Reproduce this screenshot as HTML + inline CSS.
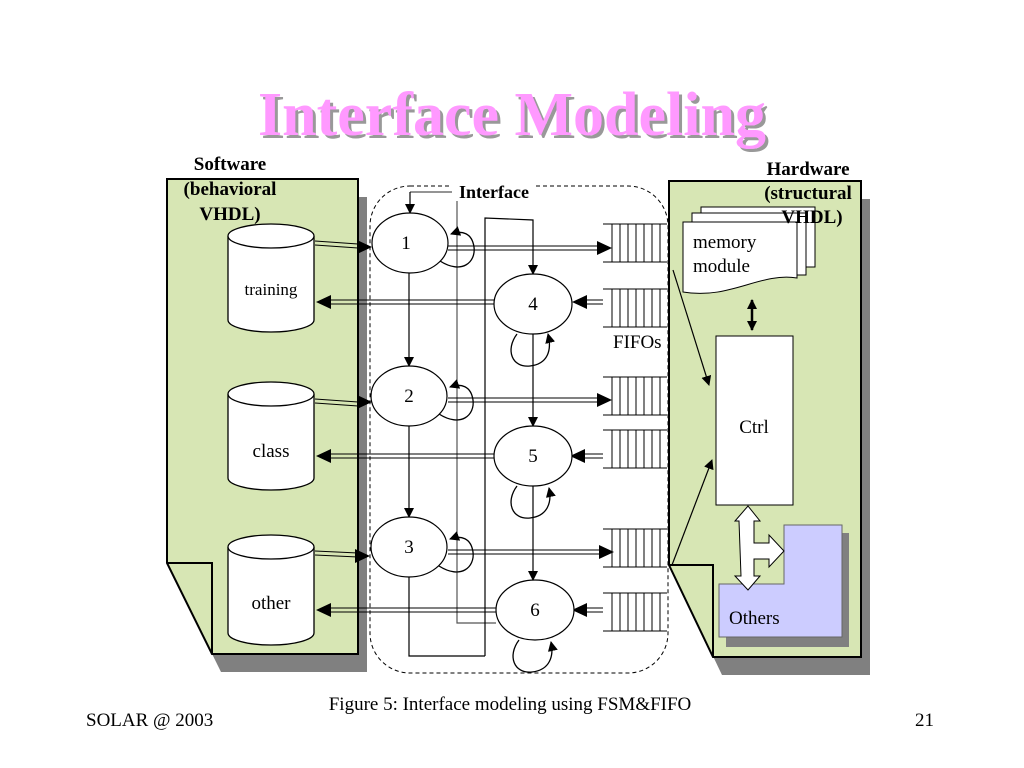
<!DOCTYPE html>
<html><head><meta charset="utf-8"><style>
body{margin:0;background:#fff;}
svg{display:block;font-family:"Liberation Serif",serif;}
</style></head><body>
<svg width="1024" height="768" viewBox="0 0 1024 768" xmlns="http://www.w3.org/2000/svg">
<defs>
<marker id="a" markerWidth="10" markerHeight="10" refX="9" refY="5" orient="auto" markerUnits="userSpaceOnUse"><path d="M0,0 L10,5 L0,10 z" fill="#000"/></marker>
<marker id="as" markerWidth="10" markerHeight="10" refX="1" refY="5" orient="auto" markerUnits="userSpaceOnUse"><path d="M10,0 L0,5 L10,10 z" fill="#000"/></marker>
<g id="fifo">
<line x1="603" y1="0" x2="667" y2="0" stroke="#000"/><line x1="603" y1="38" x2="667" y2="38" stroke="#000"/>
<path d="M612,0v38M620,0v38M628,0v38M636,0v38M644,0v38M652,0v38M660,0v38" stroke="#000"/>
</g>
</defs>
<text x="515" y="138" font-size="62" font-weight="bold" fill="#999" text-anchor="middle">Interface Modeling</text>
<text x="512" y="135" font-size="62" font-weight="bold" fill="#ff99ff" text-anchor="middle">Interface Modeling</text>

<!-- software panel -->
<polygon points="176,197 367,197 367,672 221,672 176,581" fill="#808080"/>
<polygon points="167,179 358,179 358,654 212,654 167,563" fill="#d7e6b4" stroke="#000" stroke-width="2"/>
<polyline points="167,563 212,563 212,654" fill="none" stroke="#000" stroke-width="2"/>
<!-- hardware panel -->
<polygon points="678,199 870,199 870,675 722,675 678,583" fill="#808080"/>
<polygon points="669,181 861,181 861,657 713,657 669,565" fill="#d7e6b4" stroke="#000" stroke-width="2"/>
<polyline points="669,565 713,565 713,657" fill="none" stroke="#000" stroke-width="2"/>

<!-- dashed interface -->
<rect x="370" y="186" width="298" height="487" rx="40" fill="none" stroke="#000" stroke-dasharray="4,3"/>

<!-- cylinders -->
<g stroke="#000" stroke-width="1.3" fill="#fff">
<path d="M228,236 V320 A43,12 0 0 0 314,320 V236"/><ellipse cx="271" cy="236" rx="43" ry="12"/>
<path d="M228,394 V478 A43,12 0 0 0 314,478 V394"/><ellipse cx="271" cy="394" rx="43" ry="12"/>
<path d="M228,547 V633 A43,12 0 0 0 314,633 V547"/><ellipse cx="271" cy="547" rx="43" ry="12"/>
</g>
<g font-size="19" text-anchor="middle">
<text x="271" y="295" font-size="17">training</text>
<text x="271" y="457">class</text>
<text x="271" y="609">other</text>
</g>
<g font-size="19" font-weight="bold" text-anchor="middle">
<text x="230" y="170">Software</text>
<text x="230" y="195">(behavioral</text>
<text x="230" y="220">VHDL)</text>
<text x="808" y="175">Hardware</text>
<text x="808" y="199">(structural</text>
</g>

<!-- loop lines -->
<polyline points="410,192 457,192 457,623 496,623" fill="none" stroke="#555" stroke-width="1.2"/>
<polyline points="485,656 485,218 533,220 533,274" fill="none" stroke="#000" stroke-width="1.2" marker-end="url(#a)"/>
<polyline points="485,656 409,656 409,577" fill="none" stroke="#000" stroke-width="1.2"/>
<line x1="410" y1="192" x2="410" y2="213" stroke="#000" stroke-width="1.2" marker-end="url(#a)"/>
<rect x="452" y="181" width="84" height="20" fill="#fff"/>
<text x="494" y="198" font-size="18" font-weight="bold" text-anchor="middle">Interface</text>

<!-- vertical arrows -->
<g stroke="#000" stroke-width="1.2" marker-end="url(#a)">
<line x1="409" y1="273" x2="409" y2="366"/>
<line x1="409" y1="426" x2="409" y2="517"/>
<line x1="533" y1="334" x2="533" y2="426"/>
<line x1="533" y1="486" x2="533" y2="580"/>
</g>

<!-- double arrows -->
<g stroke="#000" stroke-width="1" fill="none">
<path d="M315,241 L358,244 M315,245 L358,248"/>
<path d="M448,246 H600 M448,250 H600"/>
<path d="M585,300 H603 M585,304 H603"/>
<path d="M330,300 H494 M330,304 H494"/>
<path d="M315,399 L358,402 M315,403 L358,406"/>
<path d="M448,398 H600 M448,402 H600"/>
<path d="M585,454 H603 M585,458 H603"/>
<path d="M330,454 H494 M330,458 H494"/>
<path d="M315,551 L358,553 M315,555 L358,557"/>
<path d="M448,550 H600 M448,554 H600"/>
<path d="M585,608 H603 M585,612 H603"/>
<path d="M330,608 H496 M330,612 H496"/>
</g>
<g fill="#000">
<path d="M372,247 L357,240 L357,254z"/><path d="M612,248 L597,241 L597,255z"/>
<path d="M572,302 L587,295 L587,309z"/><path d="M316,302 L331,295 L331,309z"/>
<path d="M372,402 L357,395 L357,409z"/><path d="M612,400 L597,393 L597,407z"/>
<path d="M570,456 L585,449 L585,463z"/><path d="M316,456 L331,449 L331,463z"/>
<path d="M370,556 L355,549 L355,563z"/><path d="M614,552 L599,545 L599,559z"/>
<path d="M572,610 L587,603 L587,617z"/><path d="M316,610 L331,603 L331,617z"/>
</g>

<!-- ellipses -->
<g stroke="#000" stroke-width="1.2" fill="#fff">
<ellipse cx="410" cy="243" rx="38" ry="30"/>
<ellipse cx="409" cy="396" rx="38" ry="30"/>
<ellipse cx="409" cy="547" rx="38" ry="30"/>
<ellipse cx="533" cy="304" rx="39" ry="30"/>
<ellipse cx="533" cy="456" rx="39" ry="30"/>
<ellipse cx="535" cy="610" rx="39" ry="30"/>
</g>
<!-- self loops -->
<g stroke="#000" stroke-width="1.3" fill="none" marker-end="url(#a)">
<path d="M440,261 C462,275 476,262 474,247 C472,233 462,230 451,234"/>
<path d="M439,414 C461,428 475,415 473,400 C471,386 461,383 450,387"/>
<path d="M439,566 C461,580 475,567 473,552 C471,538 461,535 450,539"/>
<path d="M517,334 C505,350 512,368 530,366 C548,364 552,350 548,334"/>
<path d="M517,486 C505,502 512,520 530,518 C548,516 552,502 549,488"/>
<path d="M519,640 C507,656 514,674 532,672 C550,670 554,656 551,642"/>
</g>
<g font-size="19" text-anchor="middle">
<text x="406" y="249">1</text><text x="409" y="402">2</text><text x="409" y="553">3</text>
<text x="533" y="310">4</text><text x="533" y="462">5</text><text x="535" y="616">6</text>
</g>

<!-- FIFOs -->
<use href="#fifo" y="224"/><use href="#fifo" y="289"/>
<use href="#fifo" y="377"/><use href="#fifo" y="430"/>
<use href="#fifo" y="529"/><use href="#fifo" y="593"/>
<text x="613" y="348" font-size="19">FIFOs</text>

<!-- hardware contents -->
<g stroke="#000" fill="#fff">
<rect x="701" y="207" width="114" height="60"/>
<rect x="692" y="213" width="114" height="62"/>
<path d="M683,222 H797 V278 C760,272 730,300 683,292 Z"/>
</g>
<text x="693" y="248" font-size="19">memory</text>
<text x="693" y="272" font-size="19">module</text>
<text x="812" y="223" font-size="19" font-weight="bold" text-anchor="middle">VHDL)</text>
<rect x="716" y="336" width="77" height="169" fill="#fff" stroke="#000"/>
<text x="754" y="433" font-size="19" text-anchor="middle">Ctrl</text>
<line x1="752" y1="300" x2="752" y2="330" stroke="#000" stroke-width="2.5" marker-end="url(#a)" marker-start="url(#as)"/>
<line x1="673" y1="270" x2="709" y2="385" stroke="#000" stroke-width="1.2" marker-end="url(#a)"/>
<line x1="672" y1="565" x2="712" y2="460" stroke="#000" stroke-width="1.2" marker-end="url(#a)"/>
<polygon points="793,533 849,533 849,647 726,647 726,593 793,593" fill="#808080"/>
<polygon points="784,525 842,525 842,637 719,637 719,584 784,584" fill="#ccccff" stroke="#666"/>
<text x="729" y="624" font-size="19">Others</text>
<polygon points="748,506 760,521 754,521 754,543 769,543 769,535 784,551 769,567 769,559 754,559 754,576 760,576 748,590 735,576 741,576 739,521 735,521" fill="#fff" stroke="#000"/>

<text x="510" y="710" font-size="19" text-anchor="middle">Figure 5: Interface modeling using FSM&amp;FIFO</text>
<text x="86" y="726" font-size="19">SOLAR @ 2003</text>
<text x="934" y="726" font-size="19" text-anchor="end">21</text>
</svg>
</body></html>
